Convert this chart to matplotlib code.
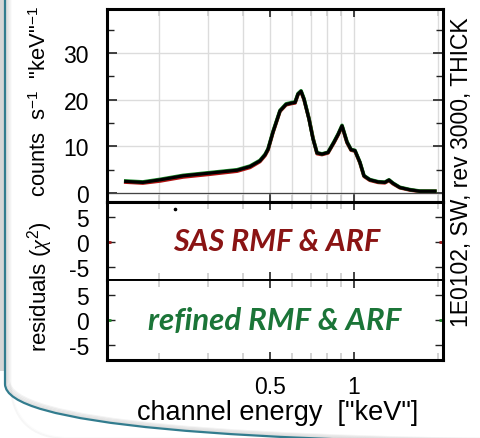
import matplotlib.pyplot as plt
from matplotlib.patches import FancyBboxPatch, Rectangle
from matplotlib.ticker import FixedLocator, NullFormatter

plt.rcParams['font.family'] = ['Liberation Sans', 'DejaVu Sans']
plt.rcParams['axes.unicode_minus'] = False
plt.rcParams['mathtext.fontset'] = 'custom'
plt.rcParams['mathtext.rm'] = 'Liberation Sans'
plt.rcParams['mathtext.it'] = 'Liberation Serif:italic'

# 1E0102 spectrum, counts s^-1 keV^-1 against channel energy (keV)
energy = [0.152, 0.175, 0.202, 0.244, 0.305, 0.381, 0.424, 0.460, 0.480, 0.492,
          0.512, 0.543, 0.571, 0.600, 0.615, 0.630, 0.646, 0.662, 0.690, 0.713,
          0.737, 0.768, 0.807, 0.848, 0.878, 0.906, 0.944, 0.976, 1.008, 1.05,
          1.086, 1.14, 1.22, 1.29, 1.335, 1.38, 1.46, 1.59, 1.72, 1.95]
counts = [2.5, 2.3, 2.85, 3.7, 4.3, 4.9, 5.7, 6.9, 8.2, 9.4,
          13.0, 17.6, 19.0, 19.3, 19.4, 21.2, 21.8, 20.1, 15.8, 11.6,
          8.6, 8.35, 8.7, 10.9, 12.6, 14.4, 10.9, 9.3, 9.1, 6.6,
          3.7, 2.85, 2.4, 2.3, 2.8, 2.1, 1.2, 0.7, 0.4, 0.4]
# model folded with the SAS response
model_sas = [2.35, 2.15, 2.6, 3.45, 4.05, 4.7, 5.5, 6.75, 8.05, 9.25,
             12.9, 17.5, 18.9, 19.2, 19.3, 21.1, 21.7, 20.0, 15.9, 11.8,
             8.45, 8.25, 8.6, 10.8, 12.5, 14.3, 10.8, 9.2, 9.0, 6.5,
             3.6, 2.75, 2.3, 2.2, 2.7, 2.0, 1.15, 0.65, 0.4, 0.4]
# model folded with the refined response
model_refined = [2.6, 2.4, 2.95, 3.8, 4.4, 5.0, 5.8, 7.0, 8.3, 9.5,
                 13.1, 17.7, 19.1, 19.4, 19.5, 21.3, 21.9, 20.2, 15.9, 11.7,
                 8.65, 8.4, 8.75, 11.0, 12.7, 14.5, 11.0, 9.35, 9.15, 6.65,
                 3.75, 2.9, 2.45, 2.35, 2.85, 2.15, 1.25, 0.75, 0.45, 0.42]

# residuals (chi) that fall inside the plotted window
sas_res_e = [0.228]
sas_res = [6.6]

x_grid = [0.2, 0.3, 0.4, 0.6, 0.7, 0.8, 0.9, 2.0]
x_major = [0.5, 1.0]
x_major_labels = ['0.5', '1']
xlim = (0.1302, 2.085)
zero_start = [xlim[0], 2.02]
zero_end = [0.1345, xlim[1]]

fig = plt.figure(figsize=(4.81, 4.39), dpi=100)

# rounded slide frame in pixel coordinates
bg = fig.add_axes([0, 0, 1, 1], zorder=0)
bg.set_xlim(0, 481)
bg.set_ylim(439, 0)
bg.axis('off')
bg.add_patch(Rectangle((0, 0), 4.5, 372, color='#d6d6d6', lw=0))
for i in range(1, 7):
    bg.add_patch(FancyBboxPatch((5 + i, -200), 700, 645 - i,
                                boxstyle='round,pad=0,rounding_size=60',
                                fc='none', ec='gray', lw=1.2,
                                alpha=0.22 * (1 - i / 7)))
bg.add_patch(FancyBboxPatch((5, -200), 700, 645,
                            boxstyle='round,pad=0,rounding_size=60',
                            fc='none', ec='#327c8e', lw=1.6))

W, H = 481.0, 439.0
left, right = 107 / W, 443 / W


def panel(top_px, bottom_px):
    ax = fig.add_axes([left, 1 - bottom_px / H, right - left,
                       (bottom_px - top_px) / H], zorder=2)
    ax.set_xscale('log')
    ax.set_xlim(*xlim)
    ax.xaxis.set_major_locator(FixedLocator(x_major))
    ax.xaxis.set_minor_locator(FixedLocator(x_grid))
    ax.xaxis.set_minor_formatter(NullFormatter())
    ax.set_xticklabels([])
    ax.tick_params(axis='x', which='major', direction='in', top=True,
                   length=6, width=1.2, color='#222222')
    ax.tick_params(axis='x', which='minor', direction='in', top=True,
                   length=5, width=1.2, color='#cccccc')
    ax.tick_params(axis='y', which='both', direction='in', left=True,
                   right=True, labelsize=16.5, pad=13, color='#222222')
    for s in ax.spines.values():
        s.set_linewidth(2.2)
    return ax


# spectrum panel
ax1 = panel(10, 203)
ax1.set_ylim(-1.9, 39.4)
ax1.set_yticks([0, 10, 20, 30])
ax1.set_yticks([5, 15, 25, 35], minor=True)
ax1.tick_params(axis='y', which='major', length=7, width=1.2)
ax1.tick_params(axis='y', which='minor', length=5, width=1.0)
ax1.grid(True, which='both', axis='x', color='#dcdcdc', lw=1.0)
ax1.grid(True, which='major', axis='y', color='#dcdcdc', lw=1.0)
ax1.axhline(0, color='#444444', lw=0.9)
ax1.plot(energy, model_sas, color='#b01010', lw=2.6)
ax1.plot(energy, model_refined, color='#1a8a2a', lw=2.6)
ax1.plot(energy, counts, color='black', lw=2.3)

# residuals, SAS response
ax2 = panel(203, 281)
ax2.set_ylim(-7.6, 8)
ax2.set_yticks([-5, 0, 5])
ax2.tick_params(axis='y', which='major', length=6, width=1.0)
ax2.plot(sas_res_e, sas_res, 'o', color='black', ms=1.6)
ax2.hlines([0, 0], zero_start, zero_end, color='#a01818', lw=2)
ax2.text(0.505, 0.5, 'SAS RMF & ARF', transform=ax2.transAxes,
         ha='center', va='center', fontsize=22, fontweight='bold',
         fontstyle='italic', family=['Lato', 'DejaVu Sans'], color='#8a1414')

# residuals, refined response
ax3 = panel(281, 361)
ax3.set_ylim(-8, 8)
ax3.set_yticks([-5, 0, 5])
ax3.tick_params(axis='y', which='major', length=6, width=1.0)
ax3.hlines([0, 0], zero_start, zero_end, color='#1f8a2a', lw=2)
ax3.set_xticklabels(x_major_labels)
ax3.tick_params(axis='x', which='major', labelsize=16.5, pad=11)
ax3.text(0.50, 0.5, 'refined RMF & ARF', transform=ax3.transAxes,
         ha='center', va='center', fontsize=22.5, fontweight='bold',
         fontstyle='italic', family=['Lato', 'DejaVu Sans'], color='#1b7538')
ax2.spines['bottom'].set_linewidth(1.4)
ax3.spines['top'].set_linewidth(1.4)

fig.text(40 / W, 1 - 102 / H, 'counts  s$^{-1}$  "keV"$^{-1}$', rotation=90,
         ha='center', va='center', fontsize=15.8)
fig.text(40 / W, 1 - 287 / H, r'residuals $(\chi^2)$', rotation=90,
         ha='center', va='center', fontsize=16)
fig.text(278 / W, 1 - 413 / H, 'channel energy  ["keV"]',
         ha='center', va='center', fontsize=19.5)
fig.text(462 / W, 1 - 172 / H, '1E0102, SW, rev 3000, THICK', rotation=90,
         ha='center', va='center', fontsize=16.5)

fig.savefig('out.png', dpi=100)
